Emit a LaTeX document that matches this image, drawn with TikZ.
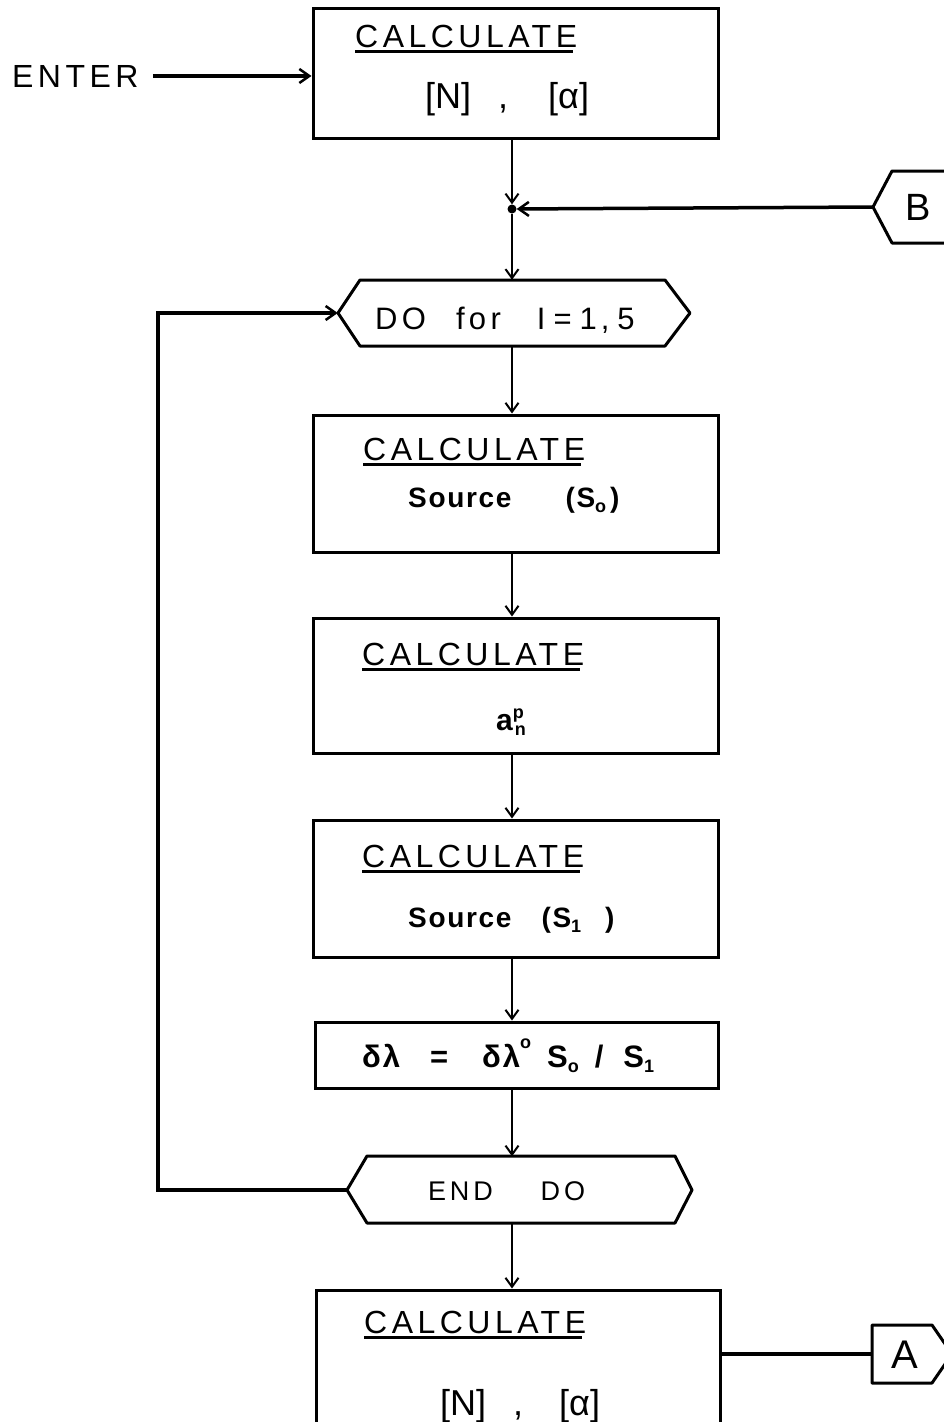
\documentclass[tikz,border=0pt]{standalone}
\usepackage{fontspec}
\setmainfont{Liberation Sans}
\newfontfamily\lsp[LetterSpace=14]{Liberation Sans}
\newfontfamily\lsps[LetterSpace=6]{Liberation Sans}
\usetikzlibrary{arrows.meta}
\newcommand{\mysub}[1]{\raisebox{-0.35ex}{\fontsize{18}{18}\selectfont #1}}
\newcommand{\mysup}[1]{\raisebox{1.1ex}{\fontsize{18}{18}\selectfont #1}}
\tikzset{
  box/.style={draw, line width=3pt, minimum width=405pt, inner sep=0pt},
  hexnode/.style={inner sep=0pt},
  hex/.style={draw, line width=3pt, line join=round},
  txt/.style={inner sep=0pt, anchor=base west},
  calc/.style={txt, font=\lsp\fontsize{32}{36}\selectfont},
  ul/.style={line width=2.5pt},
  flow/.style={line width=2pt, -{Straight Barb[length=9pt,width=13pt,line width=2pt]}},
  heavyflow/.style={line width=3.5pt, -{Straight Barb[length=10pt,width=14pt,line width=2.5pt]}},
  heavyline/.style={line width=3.5pt},
}
\begin{document}
\begin{tikzpicture}[x=1pt,y=-1pt]
\useasboundingbox (0,0) rectangle (944,1422);

% boxes
\node[box, minimum height=130pt] (b1) at (515.5,73) {};
\node[box, minimum height=137pt] (b2) at (515.5,483.5) {};
\node[box, minimum height=135pt] (b3) at (515.5,685.5) {};
\node[box, minimum height=137pt] (b4) at (515.5,888.5) {};
\node[box, minimum height=66pt, minimum width=403pt] (b5) at (516.5,1055) {};
\node[box, minimum height=150pt, minimum width=404pt] (b6) at (518,1365) {};

% hexagonal loop nodes
\node[hexnode, minimum width=352pt, minimum height=66pt] (do) at (514,313) {};
\draw[hex] (338,313) -- (360,280) -- (665,280) -- (690,313) -- (665,346) -- (360,346) -- cycle;
\node[hexnode, minimum width=345pt, minimum height=67pt] (enddo) at (519.5,1190) {};
\draw[hex] (347,1190) -- (367,1156) -- (675,1156) -- (692,1190) -- (675,1223) -- (367,1223) -- cycle;

% off-page connectors
\node[hexnode, minimum width=84pt, minimum height=72pt] (bconn) at (915,207) {};
\draw[hex] (873,207) -- (892,171) -- (962,171) -- (980,207) -- (962,243) -- (892,243) -- cycle;
\node[hexnode, minimum width=80pt, minimum height=58pt] (aconn) at (912,1354) {};
\draw[hex] (872,1325) -- (932,1325) -- (952,1354) -- (932,1383) -- (872,1383) -- cycle;
\node[inner sep=0pt, font=\fontsize{38}{40}\selectfont] (btxt) at (918,207) {B};
\node[inner sep=0pt, font=\fontsize{40}{42}\selectfont] (atxt) at (905,1355) {A};

% texts
\node[calc] (enter) at (12,87) {ENTER};
\node[calc] (t1a) at (355,47) {CALCULATE};
\node[txt, font=\fontsize{36}{40}\selectfont] (t1b) at (425,108) {[N]\hspace{27pt},\hspace{40pt}[α]};
\node[calc] (t2a) at (363,460) {CALCULATE};
\node[txt, font=\lsps\bfseries\fontsize{28}{32}\selectfont] (t2b) at (408,507) {Source\hspace{54pt}(S\mysub{o}\hspace{4pt})};
\node[calc] (t3a) at (362,665) {CALCULATE};
\node[txt, font=\bfseries\fontsize{30}{32}\selectfont] (t3b) at (496,730) {a\raisebox{12pt}{\fontsize{18}{18}\selectfont p}\hspace{-9pt}\raisebox{-5pt}{\fontsize{18}{18}\selectfont n}};
\node[calc] (t4a) at (362,867) {CALCULATE};
\node[txt, font=\lsps\bfseries\fontsize{28}{32}\selectfont] (t4b) at (408,927) {Source\hspace{30pt}(S\mysub{1}\hspace{24pt})};
\node[txt, font=\lsps\bfseries\fontsize{31}{34}\selectfont] (t5) at (362,1067) {δλ\hspace{30pt}=\hspace{34pt}δλ\mysup{o}\hspace{16pt}S\mysub{o}\hspace{16pt}/\hspace{20pt}S\mysub{1}};
\node[calc] (t6a) at (364,1333) {CALCULATE};
\node[txt, font=\fontsize{36}{40}\selectfont] (t6b) at (440,1415) {[N]\hspace{27pt},\hspace{36pt}[α]};
\node[txt, font=\lsp\fontsize{31}{34}\selectfont] (dotxt) at (375,329) {DO\hspace{30pt}for\hspace{36pt}I\hspace{8pt}=\hspace{8pt}1\hspace{4pt},\hspace{8pt}5};
\node[txt, font=\lsp\fontsize{27}{30}\selectfont] (endtxt) at (428,1200) {END\hspace{48pt}DO};

% underlines
\foreach \t in {t1a,t2a,t3a,t4a,t6a}
  \draw[ul] ([yshift=-4pt]\t.south west) -- ([yshift=-4pt,xshift=-4pt]\t.south east);

% junction dot
\node[circle, fill, inner sep=0pt, minimum size=9pt] (dot) at (512,209) {};
\coordinate (loopx) at (158,700);

% connectors
\draw[heavyflow] ([xshift=14pt]enter.east) -- (enter.east -| b1.west);
\draw[flow] (b1.south -| dot) -- (dot);
\draw[heavyflow] (bconn.west) -- (dot);
\draw[flow] (dot) -- (dot |- do.north);
\draw[flow] (do.south -| dot) -- (b2.north -| dot);
\draw[flow] (b2.south -| dot) -- (b3.north -| dot);
\draw[flow] (b3.south -| dot) -- (b4.north -| dot);
\draw[flow] (b4.south -| dot) -- (b5.north -| dot);
\draw[flow] (b5.south -| dot) -- (enddo.north -| dot);
\draw[flow] (enddo.south -| dot) -- (b6.north -| dot);
\draw[heavyflow] (enddo.west) -| (loopx) |- (do.west);
\draw[heavyline] (aconn.west -| b6.east) -- (aconn.west);
\end{tikzpicture}
\end{document}
